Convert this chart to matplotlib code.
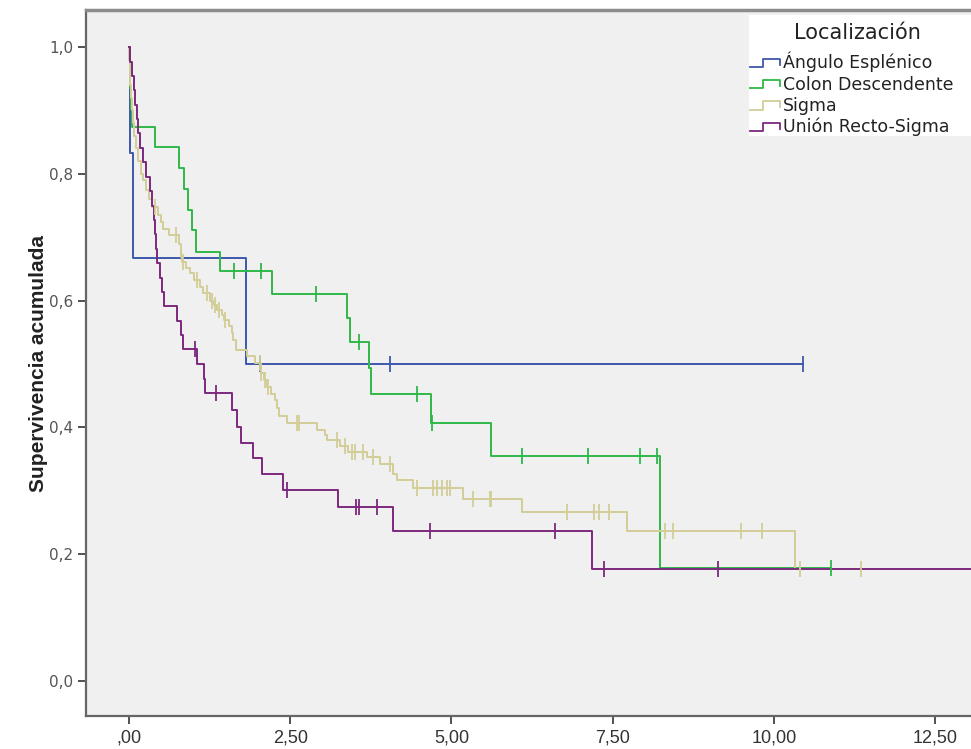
import numpy as np
import matplotlib
matplotlib.use("Agg")
import matplotlib.pyplot as plt
from matplotlib.lines import Line2D
from matplotlib.patches import Rectangle
from matplotlib.legend_handler import HandlerBase

# --- datos ---
grupos = ["Ángulo Esplénico", "Colon Descendente", "Sigma", "Unión Recto-Sigma"]
colores = ["#3E58AC", "#2EB848", "#D3CE97", "#7C287D"]

ae_t = [0, 0.01, 0.06, 1.81]
ae_s = [1.0, 0.833, 0.667, 0.5]
ae_c = [2.03, 4.05, 10.45]
ae_fin = 10.45

cd_t = [0, 0.01, 0.02, 0.03, 0.05, 0.40, 0.78, 0.85, 0.91, 0.97, 1.04, 1.41,
        2.21, 3.38, 3.43, 3.72, 3.75, 4.69, 5.61, 8.23]
cd_s = [1.0, 0.968, 0.935, 0.903, 0.874, 0.842, 0.809, 0.776, 0.743, 0.711,
        0.677, 0.646, 0.610, 0.573, 0.535, 0.494, 0.453, 0.407, 0.355, 0.178]
cd_c = [1.63, 2.04, 2.90, 3.56, 4.46, 4.70, 6.10, 7.12, 7.93, 8.18, 10.88]
cd_fin = 10.88

sg_t = [0, 0.005, 0.01, 0.02, 0.03, 0.04, 0.06, 0.08, 0.11, 0.14, 0.18, 0.22,
        0.27, 0.31, 0.36, 0.45, 0.50, 0.53, 0.62, 0.78, 0.80, 0.81, 0.82, 0.88,
        0.95, 1.00, 1.10, 1.15, 1.25, 1.31, 1.36, 1.44, 1.47, 1.55, 1.60, 1.62,
        1.66, 1.83, 1.95, 2.04, 2.09, 2.14, 2.20, 2.26, 2.29, 2.32, 2.45, 2.91,
        3.04, 3.07, 3.27, 3.40, 3.69, 3.89, 4.10, 4.15, 4.40, 5.18, 6.09, 7.72,
        10.33]
sg_s = [1.0, 0.98, 0.96, 0.94, 0.92, 0.90, 0.88, 0.86, 0.84, 0.82, 0.80, 0.79,
        0.775, 0.76, 0.747, 0.735, 0.724, 0.713, 0.703, 0.69, 0.68, 0.669, 0.661,
        0.652, 0.643, 0.632, 0.621, 0.612, 0.60, 0.593, 0.585, 0.577, 0.569, 0.56,
        0.549, 0.538, 0.522, 0.512, 0.501, 0.486, 0.475, 0.464, 0.453, 0.443,
        0.430, 0.418, 0.407, 0.396, 0.388, 0.380, 0.370, 0.362, 0.354, 0.343,
        0.327, 0.317, 0.304, 0.287, 0.266, 0.237, 0.177]
sg_c = [0.40, 0.73, 0.83, 1.05, 1.21, 1.28, 1.34, 1.39, 1.49, 2.03, 2.05, 2.11,
        2.16, 2.60, 2.64, 3.22, 3.35, 3.45, 3.50, 3.63, 3.79, 4.05, 4.46, 4.72,
        4.78, 4.85, 4.93, 4.98, 5.34, 5.59, 5.62, 6.79, 7.21, 7.28, 7.45, 8.31,
        8.43, 9.49, 9.81, 10.40, 11.35]
sg_fin = 11.35

ur_t = [0, 0.02, 0.05, 0.07, 0.10, 0.12, 0.14, 0.17, 0.22, 0.27, 0.33, 0.35,
        0.38, 0.40, 0.42, 0.43, 0.48, 0.51, 0.54, 0.74, 0.80, 0.84, 1.06, 1.17,
        1.18, 1.60, 1.67, 1.73, 1.92, 2.06, 2.38, 3.24, 4.10, 7.18]
ur_s = [1.0, 0.977, 0.955, 0.932, 0.909, 0.886, 0.864, 0.841, 0.818, 0.795,
        0.773, 0.750, 0.727, 0.705, 0.682, 0.659, 0.636, 0.614, 0.591, 0.568,
        0.545, 0.523, 0.500, 0.477, 0.454, 0.428, 0.401, 0.376, 0.351, 0.327,
        0.302, 0.274, 0.236, 0.177]
ur_c = [1.02, 1.35, 2.45, 3.52, 3.56, 3.84, 4.67, 6.61, 7.36, 9.14]
ur_fin = 13.5

xticks = [0, 2.5, 5.0, 7.5, 10.0, 12.5]
xtick_labels = [",00", "2,50", "5,00", "7,50", "10,00", "12,50"]
yticks = [0.0, 0.2, 0.4, 0.6, 0.8, 1.0]
ytick_labels = ["0,0", "0,2", "0,4", "0,6", "0,8", "1,0"]

series = [(ae_t, ae_s, ae_c, ae_fin), (cd_t, cd_s, cd_c, cd_fin),
          (sg_t, sg_s, sg_c, sg_fin), (ur_t, ur_s, ur_c, ur_fin)]

NARROW = ["Liberation Sans Narrow", "Liberation Sans", "DejaVu Sans"]
W, H = 971, 749


class StepHandler(HandlerBase):
    # icono escalonado como en la leyenda de SPSS
    def create_artists(self, legend, orig_handle, xdescent, ydescent,
                       width, height, fontsize, trans):
        x0, w, h = -xdescent, width, height
        xs = [x0, x0 + 0.45 * w, x0 + 0.45 * w, x0 + w, x0 + w]
        ys = [0.1 * h, 0.1 * h, 0.8 * h, 0.8 * h, 0.3 * h]
        ln = Line2D(xs, ys, color=orig_handle.get_color(), lw=1.3,
                    transform=trans)
        return [ln]


fig = plt.figure(figsize=(W / 100, H / 100), dpi=100)
fig.patch.set_facecolor("white")
ax = fig.add_axes([86 / W, 33 / H, (990 - 86) / W, 706 / H])
ax.set_facecolor("#F0F0F0")

handles = []
for (t, s, c, fin), col, nom in zip(series, colores, grupos):
    t = np.asarray(t)
    s = np.asarray(s)
    xs = np.append(t, fin)
    ys = np.append(s, s[-1])
    ln, = ax.step(xs, ys, where="post", color=col, lw=1.4, label=nom, zorder=3)
    c = np.asarray(c)
    cy = s[np.searchsorted(t, c, side="right") - 1]
    ax.plot(c, cy, ls="none", marker="|", ms=11, mew=1.3, color=col, zorder=4)
    handles.append(ln)

ax.set_xlim(-0.667, 13.35)
ax.set_ylim(-0.0552, 1.0584)
ax.set_xticks(xticks)
ax.set_xticklabels(xtick_labels, family=NARROW, fontsize=13, color="#333333")
ax.set_yticks(yticks)
ax.set_yticklabels(ytick_labels, fontsize=11, color="#555555")
ax.tick_params(direction="out", length=6, width=1.2, color="#333333")
ax.tick_params(axis="y", pad=3)
ax.tick_params(axis="x", pad=4)

for lado in ["left", "bottom"]:
    ax.spines[lado].set_color("#666666")
    ax.spines[lado].set_linewidth(1.6)
ax.spines["top"].set_color("#8c8c8c")
ax.spines["top"].set_linewidth(2.5)
ax.spines["right"].set_visible(False)

ax.set_ylabel("Supervivencia acumulada", family=NARROW, fontsize=15,
              fontweight="bold", color="#222222", labelpad=1)

# caja blanca de la leyenda (llega hasta el borde derecho)
fig.add_artist(Rectangle((749 / W, 1 - 136 / H), (W - 749) / W, 121 / H,
                         transform=fig.transFigure, facecolor="white",
                         edgecolor="none", zorder=5))
fig.text(857 / W, 1 - 33 / H, "Localización", ha="center", va="center",
         fontsize=15, color="#222222", zorder=6)
leg = fig.legend(handles=handles, labels=grupos,
                 handler_map={Line2D: StepHandler()},
                 loc="upper left", bbox_to_anchor=(750 / W, 1 - 52 / H),
                 frameon=False, fontsize=12.5, handlelength=1.7,
                 handletextpad=0.2, labelspacing=0.18, borderpad=0.0,
                 borderaxespad=0.0)
leg.set_zorder(6)
for txt in leg.get_texts():
    txt.set_color("#222222")

fig.savefig("out.png", dpi=100)
